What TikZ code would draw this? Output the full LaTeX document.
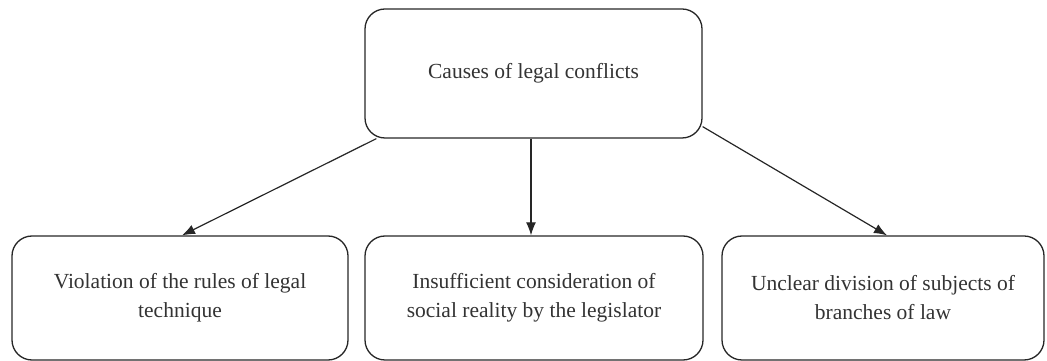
\documentclass[tikz,border=0pt]{standalone}
\usepackage{fontspec}
\setmainfont{Liberation Serif}
\usetikzlibrary{arrows.meta}
\tikzset{
  causebox/.style={draw=black!85, line width=1.3pt, rounded corners=20pt, align=center,
    text=black!80, inner sep=0pt, font=\fontsize{21.5}{29}\selectfont},
}
\begin{document}
\begin{tikzpicture}[>={Latex[length=13pt,width=10pt]}, x=1pt, y=1pt, line join=round]
            \useasboundingbox (0,0) rectangle (1047,361);
            \node[causebox, minimum width=337pt, minimum height=129pt] (top) at (533.5,287.5) {Causes of legal conflicts};
            \node[causebox, minimum width=336pt, minimum height=124pt] (rules) at (180,63) {Violation of the rules of legal\\technique};
            \node[causebox, minimum width=338pt, minimum height=124pt] (reality) at (534,63) {Insufficient consideration of\\social reality by the legislator};
            \node[causebox, minimum width=322pt, minimum height=124pt] (branches) at (883,63) {Unclear division of subjects of\\branches of law};
            \draw[->, line width=1.2pt, black!85] ([xshift=12pt]top.south west) -- ([xshift=2pt]rules.north);
            \draw[->, line width=1.2pt, black!85] ([xshift=-2.5pt]top.south) -- ([xshift=-3pt]reality.north);
            \draw[->, line width=1.2pt, black!85] ([yshift=12pt]top.south east) -- ([xshift=4pt]branches.north);
    \end{tikzpicture}
\end{document}
